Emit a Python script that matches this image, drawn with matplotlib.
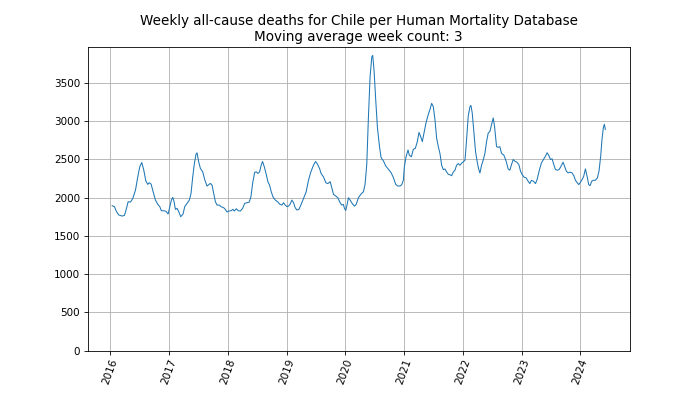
import numpy as np
import pandas as pd
import matplotlib
matplotlib.use("Agg")
import matplotlib.pyplot as plt

country = "Chile"
window = 3

# position in decimal years
year_frac = [
    2016.033, 2016.073, 2016.107, 2016.147, 2016.203, 2016.243, 2016.277, 2016.305, 2016.345, 2016.384,
    2016.430, 2016.469, 2016.503, 2016.537, 2016.571, 2016.605, 2016.639, 2016.662, 2016.696, 2016.730,
    2016.769, 2016.809, 2016.843, 2016.871, 2016.911, 2016.951, 2016.985,
    2017.007, 2017.041, 2017.064, 2017.087, 2017.109, 2017.137, 2017.166, 2017.200, 2017.239, 2017.268,
    2017.307, 2017.347, 2017.375, 2017.404, 2017.432, 2017.460, 2017.477, 2017.505, 2017.534, 2017.573,
    2017.607, 2017.647, 2017.687, 2017.704, 2017.732, 2017.760, 2017.789, 2017.817, 2017.856, 2017.885,
    2017.930, 2017.958, 2017.987,
    2018.015, 2018.055, 2018.089, 2018.111, 2018.145, 2018.179, 2018.213, 2018.253, 2018.287, 2018.326,
    2018.366, 2018.394, 2018.423, 2018.457, 2018.485, 2018.513, 2018.542, 2018.564, 2018.592, 2018.621,
    2018.655, 2018.683, 2018.711, 2018.740, 2018.768, 2018.808, 2018.847, 2018.881, 2018.921, 2018.949,
    2018.977,
    2019.006, 2019.034, 2019.062, 2019.091, 2019.119, 2019.147, 2019.176, 2019.210, 2019.244, 2019.289,
    2019.334, 2019.374, 2019.414, 2019.459, 2019.493, 2019.527, 2019.561, 2019.589, 2019.629, 2019.668,
    2019.702, 2019.742, 2019.770, 2019.798, 2019.838, 2019.872, 2019.912, 2019.940, 2019.968, 2019.985,
    2020.008, 2020.031, 2020.053, 2020.082, 2020.121, 2020.155, 2020.184, 2020.223, 2020.263, 2020.308,
    2020.336, 2020.365, 2020.393, 2020.421, 2020.450, 2020.466, 2020.489, 2020.518, 2020.546, 2020.580,
    2020.608, 2020.648, 2020.687, 2020.733, 2020.778, 2020.818, 2020.857, 2020.891, 2020.931, 2020.959,
    2020.987,
    2021.004, 2021.033, 2021.067, 2021.089, 2021.123, 2021.157, 2021.191, 2021.225, 2021.254, 2021.282,
    2021.310, 2021.338, 2021.372, 2021.406, 2021.440, 2021.469, 2021.497, 2021.525, 2021.554, 2021.582,
    2021.610, 2021.639, 2021.667, 2021.695, 2021.724, 2021.752, 2021.780, 2021.808, 2021.837, 2021.865,
    2021.893, 2021.922, 2021.950, 2021.984,
    2022.007, 2022.036, 2022.063, 2022.091, 2022.120, 2022.137, 2022.159, 2022.188, 2022.216, 2022.244,
    2022.267, 2022.290, 2022.318, 2022.346, 2022.375, 2022.403, 2022.431, 2022.460, 2022.488, 2022.516,
    2022.539, 2022.573, 2022.601, 2022.629, 2022.658, 2022.697, 2022.731, 2022.743, 2022.771, 2022.799,
    2022.828, 2022.856, 2022.884, 2022.918, 2022.952, 2022.981,
    2023.009, 2023.043, 2023.077, 2023.111, 2023.139, 2023.167, 2023.201, 2023.235, 2023.263, 2023.297,
    2023.337, 2023.377, 2023.405, 2023.433, 2023.462, 2023.490, 2023.518, 2023.547, 2023.575, 2023.609,
    2023.637, 2023.665, 2023.705, 2023.733, 2023.761, 2023.790, 2023.824, 2023.858, 2023.892, 2023.915,
    2023.949, 2023.972,
    2024.000, 2024.028, 2024.056, 2024.085, 2024.113, 2024.141, 2024.164, 2024.192, 2024.220, 2024.254,
    2024.288, 2024.316, 2024.345, 2024.367, 2024.390, 2024.407, 2024.424,
]

deaths = [
    1896, 1883, 1817, 1774, 1760, 1770, 1861, 1948, 1943, 1991,
    2100, 2274, 2405, 2461, 2361, 2222, 2174, 2196, 2178, 2078,
    1970, 1913, 1883, 1830, 1830, 1822, 1787,
    1861, 1970, 2004, 1948, 1848, 1861, 1817, 1752, 1787, 1883,
    1926, 1970, 2057, 2274, 2448, 2570, 2587, 2470, 2383, 2339,
    2239, 2152, 2178, 2187, 2165, 2057, 1948, 1904, 1904, 1883,
    1870, 1848, 1813,
    1826, 1830, 1848, 1826, 1856, 1830, 1826, 1861, 1926, 1935,
    1943, 2013, 2187, 2331, 2339, 2318, 2339, 2413, 2474, 2405,
    2305, 2209, 2165, 2078, 2013, 1970, 1948, 1917, 1904, 1935,
    1904,
    1883, 1891, 1917, 1970, 1935, 1870, 1839, 1848, 1904, 1991,
    2078, 2231, 2339, 2426, 2474, 2439, 2383, 2315, 2272, 2197,
    2184, 2210, 2131, 2044, 2022, 2000, 1934, 1904, 1912, 1860,
    1834, 1912, 2000, 1969, 1921, 1890, 1912, 2000, 2044, 2079,
    2175, 2438, 3051, 3577, 3840, 3862, 3664, 3270, 2920, 2679,
    2526, 2482, 2416, 2372, 2329, 2263, 2175, 2153, 2153, 2169,
    2226,
    2403, 2535, 2624, 2557, 2535, 2633, 2646, 2734, 2854, 2800,
    2734, 2845, 2977, 3075, 3154, 3234, 3190, 3022, 2778, 2668,
    2580, 2425, 2367, 2376, 2336, 2306, 2301, 2288, 2336, 2359,
    2425, 2447, 2425, 2456,
    2469, 2491, 2756, 3066, 3190, 3207, 3110, 2845, 2602, 2469,
    2381, 2323, 2425, 2491, 2580, 2734, 2845, 2867, 2955, 3044,
    2933, 2668, 2659, 2668, 2580, 2557, 2491, 2456, 2377, 2360,
    2434, 2500, 2478, 2465, 2434, 2347,
    2303, 2268, 2259, 2215, 2185, 2228, 2215, 2185, 2237, 2347,
    2456, 2509, 2544, 2588, 2553, 2500, 2509, 2434, 2369, 2360,
    2369, 2404, 2465, 2404, 2347, 2325, 2334, 2325, 2281, 2228,
    2193, 2172,
    2202, 2237, 2281, 2377, 2281, 2172, 2158, 2215, 2228, 2228,
    2259, 2347, 2544, 2763, 2916, 2960, 2894,
]

days = (np.array(year_frac) - 2016) * 365.25
dates = pd.Timestamp("2016-01-01") + pd.to_timedelta(days, unit="D")

fig = plt.figure(figsize=(700 / 75, 394 / 75), dpi=75)
plt.plot(dates, deaths, linewidth=1)
plt.ylim(bottom=0)
plt.grid(True)
plt.xticks(rotation=70)
plt.title("Weekly all-cause deaths for %s per Human Mortality Database\nMoving average week count: %d" % (country, window),
          fontsize=13)
plt.savefig("out.png", dpi=75)
